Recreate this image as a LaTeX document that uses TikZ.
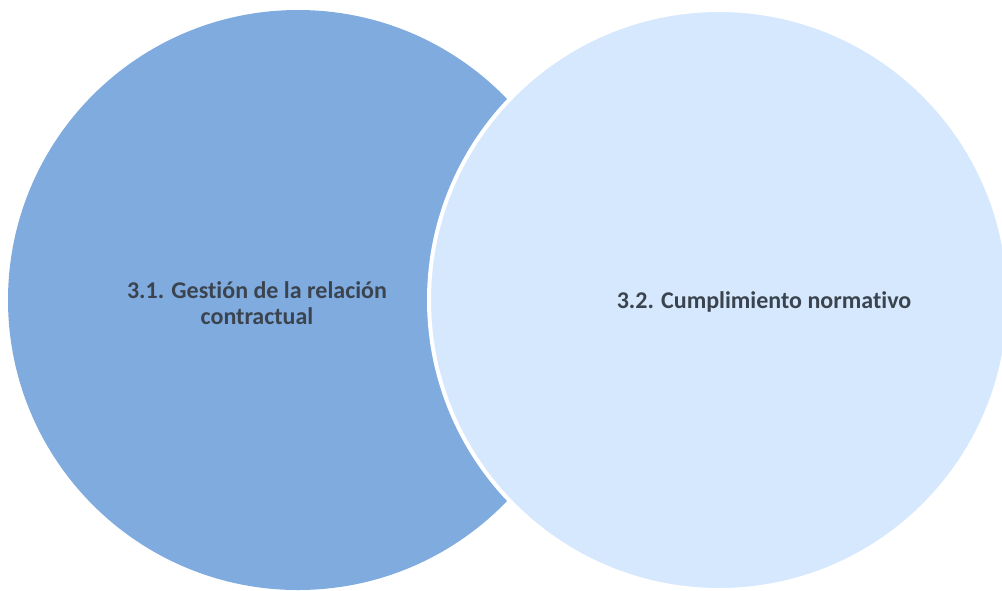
\documentclass[tikz,border=0pt]{standalone}
\usepackage{fontspec}
\setmainfont[Ligatures={NoCommon,NoRare,NoContextual}]{Carlito}

\definecolor{darkcircle}{RGB}{128,171,222}
\definecolor{lightcircle}{RGB}{214,232,253}
\definecolor{labeltext}{RGB}{59,68,78}

\begin{document}
\begin{tikzpicture}[x=0.75pt,y=0.75pt,yscale=-1,xscale=1]
\tikzset{label text/.style={text=labeltext, font=\bfseries\fontsize{18}{19.5}\selectfont, align=center, inner sep=0.75pt}}
\useasboundingbox (0,0) rectangle (1002,590);
\clip (0,0) rectangle (1002,590);

% Circles
\fill [darkcircle] (298,300) circle [radius=290];
\draw [fill=lightcircle, draw=white, line width=3pt] (719,300) circle [radius=290];

% Text Node
\node [label text] (contract) at (257,303) {3.1. Gestión de la relación\\contractual};
% Text Node
\node [label text] (compliance) at (764,302) {3.2. Cumplimiento normativo};

\end{tikzpicture}
\end{document}
